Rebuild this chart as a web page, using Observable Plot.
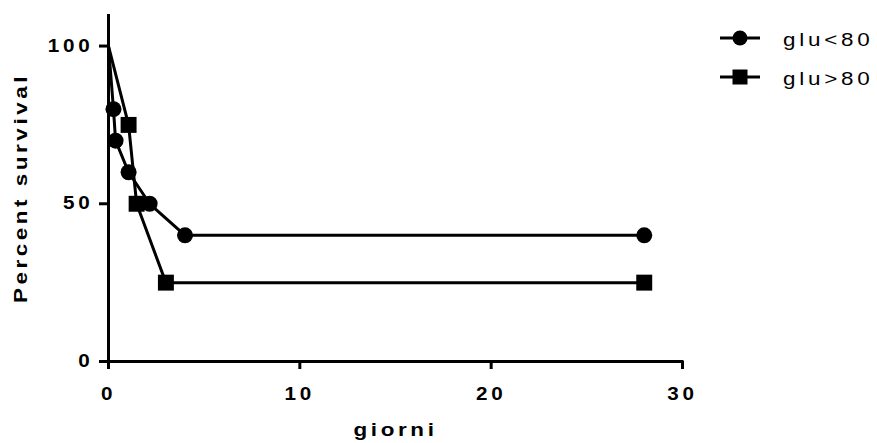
<!DOCTYPE html>
<html>
<head>
<meta charset="utf-8">
<script src="https://cdn.jsdelivr.net/npm/d3@7"></script>
<script src="https://cdn.jsdelivr.net/npm/@observablehq/plot@0.6"></script>
<style>
  html, body { margin: 0; padding: 0; background: #fff; }
  #wrap { position: relative; width: 877px; height: 443px; }
  #wrap > svg { position: absolute; left: 0; top: 0; }
</style>
</head>
<body>
<div id="wrap"></div>
<script>
// Series: glu<80
const daysLow = [0, 0.26, 0.37, 1.05, 2.15, 4, 28];
const survLow = [100, 80, 70, 60, 50, 40, 40];
// Series: glu>80
const daysHigh = [0, 1.05, 1.47, 3, 28];
const survHigh = [100, 75, 50, 25, 25];

const seriesNames = ["glu<80", "glu>80"];
const seriesSymbols = ["circle", "square"];
const xTicks = [0, 10, 20, 30];
const yTicks = [0, 50, 100];
const xLabel = "giorni";
const yLabel = "Percent survival";

const rows = [
  ...daysLow.map((d, i) => ({x: d, y: survLow[i], g: seriesNames[0], i})),
  ...daysHigh.map((d, i) => ({x: d, y: survHigh[i], g: seriesNames[1], i}))
];

const FONT = "'Liberation Sans', Arial, Helvetica, sans-serif";

const chart = Plot.plot({
  width: 877,
  height: 443,
  marginLeft: 108,
  marginRight: 195,
  marginTop: 14,
  marginBottom: 82,
  x: {domain: [0, 30]},
  y: {domain: [0, 110]},
  style: {fontFamily: FONT, fontSize: "17.5px", fontWeight: "bold", color: "#000", background: "#fff", overflow: "visible"},
  marks: [
    Plot.axisX({ticks: xTicks, tickSize: 8, tickPadding: 18, strokeWidth: 3, label: xLabel, labelAnchor: "center", labelArrow: "none", labelOffset: 74}),
    Plot.axisY({ticks: yTicks, tickSize: 9, tickPadding: 6, strokeWidth: 3, label: yLabel, labelAnchor: "center", labelArrow: "none", labelOffset: 95}),
    Plot.ruleX([0], {y1: 0, y2: 110, strokeWidth: 3, stroke: "#000"}),
    Plot.ruleY([0], {x1: 0, x2: 30, strokeWidth: 3, stroke: "#000", strokeLinecap: "square"}),
    Plot.line(rows, {x: "x", y: "y", z: "g", stroke: "#000", strokeWidth: 3}),
    Plot.dot(rows.filter(d => d.i > 0 && d.g === seriesNames[0]), {x: "x", y: "y", symbol: () => seriesSymbols[0], r: 8, fill: "#000", stroke: "none"}),
    Plot.dot(rows.filter(d => d.i > 0 && d.g === seriesNames[1]), {x: "x", y: "y", symbol: () => seriesSymbols[1], r: 9, fill: "#000", stroke: "none"})
  ]
});

const wrap = document.getElementById("wrap");
wrap.appendChild(chart);

// Legend drawn in its own SVG layer over the chart
const legendSvg = d3.select(wrap).append("svg")
  .attr("width", 877).attr("height", 443)
  .style("pointer-events", "none");
const legendRowsY = [38, 77];
seriesNames.forEach((name, k) => {
  const g = legendSvg.append("g").attr("transform", `translate(720,${legendRowsY[k]})`);
  g.append("line").attr("x1", 0).attr("x2", 40).attr("y1", 0).attr("y2", 0)
    .attr("stroke", "#000").attr("stroke-width", 3);
  if (seriesSymbols[k] === "circle") g.append("circle").attr("cx", 20).attr("cy", 0).attr("r", 7.5);
  else g.append("rect").attr("x", 12.5).attr("y", -7.5).attr("width", 15).attr("height", 15);
  g.append("text").attr("class", "lg").attr("x", 63).attr("y", 8)
    .style("font-family", FONT).style("font-size", "19px").style("font-weight", "normal")
    .text(name);
});

// GraphPad-like wide lettering: letter spacing plus a slight horizontal stretch
function stretch(sel, size, spacing, k) {
  sel.each(function () {
    this.style.fontSize = size;
    this.style.letterSpacing = spacing;
    const len = this.getComputedTextLength();
    this.setAttribute("textLength", (len * k).toFixed(2));
    this.setAttribute("lengthAdjust", "spacingAndGlyphs");
  });
}
const svg = d3.select(chart);
stretch(svg.selectAll('g[aria-label="x-axis tick label"] text, g[aria-label="y-axis tick label"] text'), "17.5px", "3.2px", 1.18);
stretch(svg.selectAll('g[aria-label="x-axis label"] text'), "19px", "3.1px", 1.18);
stretch(svg.selectAll('g[aria-label="y-axis label"] text'), "19px", "3px", 1.18);
stretch(legendSvg.selectAll("text.lg"), "19px", "3.2px", 1.18);
</script>
</body>
</html>
